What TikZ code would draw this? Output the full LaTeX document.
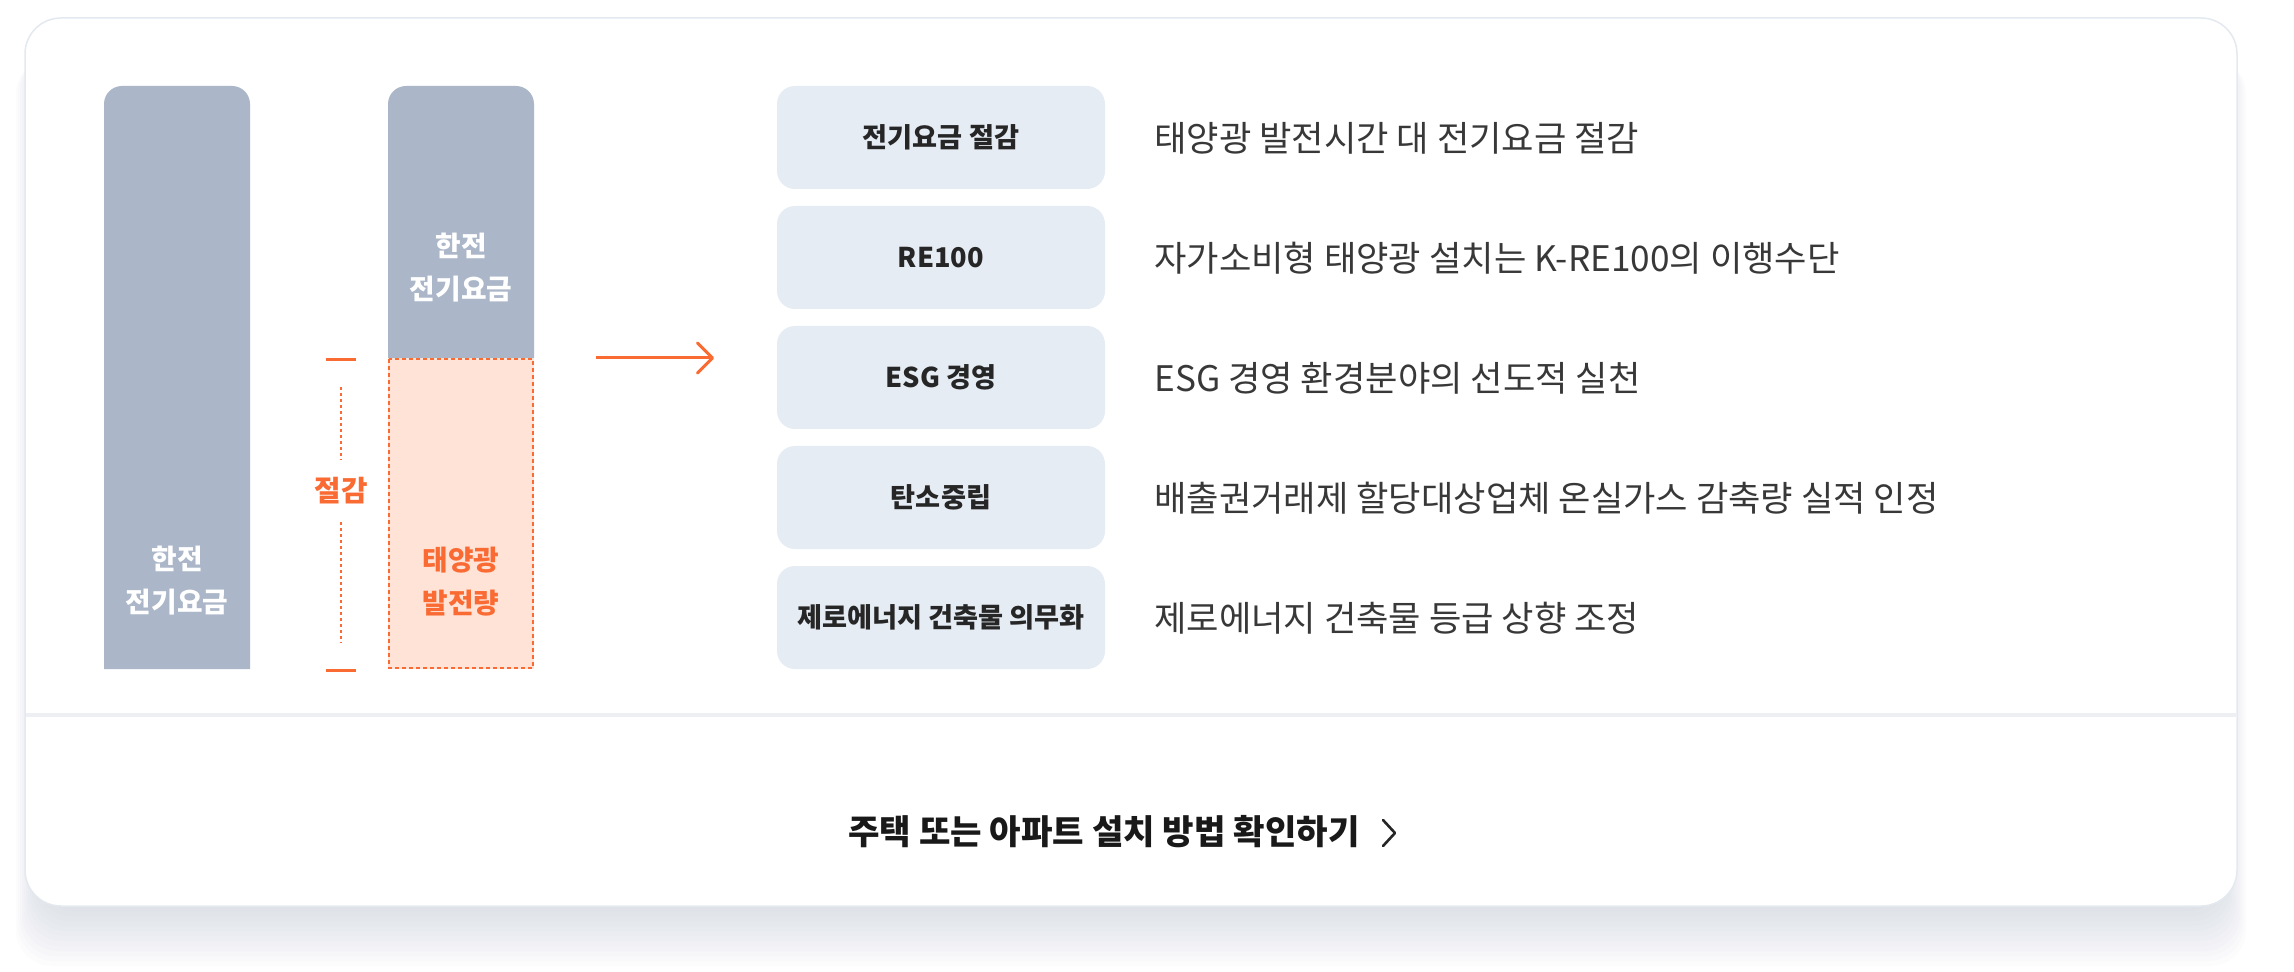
\documentclass[tikz,border=0pt]{standalone}
\usepackage{fontspec}
\setmainfont{Noto Sans CJK KR}
\usetikzlibrary{arrows.meta}
\definecolor{barg}{HTML}{ABB7C9}
\definecolor{org}{HTML}{FA6B34}
\definecolor{orgl}{HTML}{FFE3D7}
\definecolor{boxb}{HTML}{E6ECF4}
\definecolor{txt}{HTML}{383838}
\definecolor{lbl}{HTML}{262626}
\definecolor{cardline}{HTML}{E4E9F0}
\definecolor{divl}{HTML}{EDEFF3}
\definecolor{shadowc}{HTML}{B4BFD0}
\tikzset{
  itembox/.style={fill=boxb, rounded corners=9pt, minimum width=164pt, minimum height=51.5pt, inner sep=0pt,
    font=\bfseries\fontsize{13.6pt}{16pt}\selectfont, text=lbl},
  desc/.style={anchor=west, inner sep=0pt, font=\fontsize{17.6pt}{20pt}\selectfont, text=txt},
  barlabel/.style={align=center, inner sep=0pt, font=\bfseries\fontsize{13.9pt}{21.5pt}\selectfont, text=white},
  orgline/.style={draw=org, line width=1.5pt},
}
\begin{document}
\begin{tikzpicture}[x=0.5pt,y=-0.5pt]
\useasboundingbox (0,0) rectangle (2294,972);
\fill[white] (0,0) rectangle (2294,972);
% shadow
\foreach \i in {1,...,12}{
  \fill[shadowc, opacity=0.04, rounded corners=18pt] (40-\i*2,40+\i*1.5) rectangle (2222+\i*2,906+\i*5);
}
% card
\draw[fill=white, draw=cardline, line width=0.75pt, rounded corners=18pt] (25,18) rectangle (2237,906);
\draw[divl, line width=2pt] (26,715) -- (2236,715);
% left bar
\fill[barg] (104,669) [rounded corners=9pt] -- (104,86) -- (250,86) [sharp corners] -- (250,669) -- cycle;
\node[barlabel] (lbar) at (177,581) {한전\\전기요금};
% right bar
\fill[barg] (388,358) [rounded corners=9pt] -- (388,86) -- (534,86) [sharp corners] -- (534,358) -- cycle;
\node[barlabel] (rbar) at (461,268) {한전\\전기요금};
\fill[orgl] (388,358) rectangle (534,669);
\draw[org, line width=1pt, dash pattern=on 2pt off 1.5pt] (389,359) rectangle (533,668);
\node[barlabel, text=org] (solar) at (461,582) {태양광\\발전량};
% saving bracket
\coordinate (t1) at (326,360); \coordinate (t2) at (356,360);
\coordinate (b1) at (326,670); \coordinate (b2) at (356,670);
\draw[orgline] (t1) -- (t2);
\draw[orgline] (b1) -- (b2);
\node[inner sep=0pt, minimum height=31pt, text=org, font=\bfseries\fontsize{14.4pt}{16pt}\selectfont] (sav) at (341,491) {절감};
\coordinate (vtop) at (341,387);
\coordinate (vbot) at (341,643);
\draw[org, line width=1pt, dash pattern=on 1.5pt off 1.5pt] (vtop) -- (sav.north);
\draw[org, line width=1pt, dash pattern=on 1.5pt off 1.5pt] (sav.south) -- (vbot);
% arrow
\coordinate (a1) at (596,358);
\coordinate (a2) at (714,358);
\draw[orgline, -{Straight Barb[length=7.5pt, width=15pt, round, line width=1.5pt]}] (a1) -- (a2);
% boxes
\node[itembox] (k1) at (941,137.5) {전기요금 절감};
\node[itembox] (k2) at (941,257.5) {RE100};
\node[itembox] (k3) at (941,377.5) {ESG 경영};
\node[itembox] (k4) at (941,497.5) {탄소중립};
\node[itembox] (k5) at (941,617.5) {제로에너지 건축물 의무화};
\node[desc] (d1) at (1154,138.5) {태양광 발전시간 대 전기요금 절감};
\node[desc] (d2) at (1154,258.5) {자가소비형 태양광 설치는 K-RE100의 이행수단};
\node[desc] (d3) at (1154,378.5) {ESG 경영 환경분야의 선도적 실천};
\node[desc] (d4) at (1154,498.5) {배출권거래제 할당대상업체 온실가스 감축량 실적 인정};
\node[desc] (d5) at (1154,618.5) {제로에너지 건축물 등급 상향 조정};
% link
\node[anchor=west, inner sep=0pt, font=\bfseries\fontsize{17.1pt}{20pt}\selectfont, text=black!90] (link) at (848,832) {주택 또는 아파트 설치 방법 확인하기};
\coordinate (c1) at (1383,820);
\coordinate (c2) at (1395,833);
\coordinate (c3) at (1383,846);
\draw[black!85, line width=1.3pt, line cap=round, line join=round] (c1) -- (c2) -- (c3);
\end{tikzpicture}
\end{document}
